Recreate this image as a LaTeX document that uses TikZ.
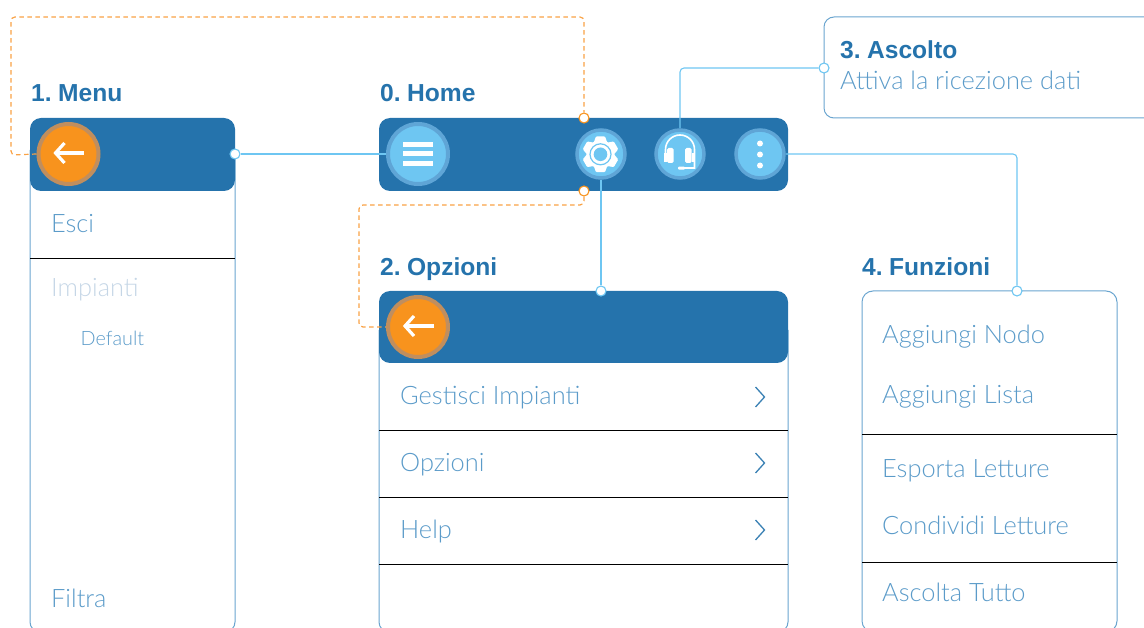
\documentclass[tikz,border=0pt]{standalone}
\usepackage{fontspec}
\setmainfont{Liberation Sans}[WordSpace=0.6]
\newfontfamily\lightf{Lato Light}
\definecolor{barblue}{HTML}{2573AC}
\definecolor{skyb}{HTML}{6EC6F2}
\definecolor{ringb}{HTML}{5FA5D6}
\definecolor{edgeb}{HTML}{6AA5CF}
\definecolor{txtb}{HTML}{5B9BC9}
\definecolor{orangef}{HTML}{F8931D}
\definecolor{orangeline}{HTML}{F9A245}
\definecolor{orangering}{HTML}{C08E5E}
\definecolor{fadeb}{HTML}{C5D6E6}
\tikzset{
  x=1pt,y=-1pt,
  panel/.style={draw=edgeb,line width=1pt,rounded corners=10pt},
  bar/.style={fill=barblue,rounded corners=11pt},
  sep/.style={draw=black,line width=.9pt},
  wire/.style={draw=skyb,line width=1.1pt,rounded corners=4pt},
  orangewire/.style={draw=orangeline,line width=1.2pt,dash pattern=on 4.5pt off 3.5pt,rounded corners=4pt},
  bluedot/.style={circle,draw=skyb,fill=white,line width=1.1pt,inner sep=0pt,minimum size=10pt},
  orangedot/.style={circle,draw=orangef,fill=white,line width=1.1pt,inner sep=0pt,minimum size=10pt},
  bigb/.style={circle,fill=skyb,draw=ringb,line width=4pt,inner sep=0pt,minimum size=60pt},
  smallb/.style={circle,fill=skyb,draw=ringb,line width=3.5pt,inner sep=0pt,minimum size=48pt},
  bigo/.style={circle,fill=orangef,draw=orangering,line width=4pt,inner sep=0pt,minimum size=60pt},
  title/.style={anchor=base west,inner sep=0pt,text=barblue,font=\bfseries\fontsize{24.6}{25}\selectfont},
  item/.style={anchor=base west,inner sep=0pt,text=txtb,font=\lightf\fontsize{25.4}{25.4}\selectfont},
  chev/.style={draw=barblue!90!white,line width=1.3pt},
  arrowmark/.style={draw=white,line width=3.2pt},
  glyph/.style={draw=white,line width=1.6pt}
}
\begin{document}
\begin{tikzpicture}
\useasboundingbox (0,0) rectangle (1144,628);
\begin{scope}
\clip (0,0) rectangle (1144,628);
% panels
\draw[panel] (30,150) -- (30,632) -- (235,632) -- (235,150);
\draw[panel] (379,330) -- (379,632) -- (788,632) -- (788,330);
\draw[panel,rounded corners=11pt] (862,632) -- (862,291) -- (1117,291) -- (1117,632) -- cycle;
\draw[panel] (1160,17) -- (824,17) -- (824,118) -- (1160,118);
% bars
\fill[bar] (30,118) rectangle (235,191);
\fill[bar] (379,118) rectangle (788,191);
\fill[bar] (379,291) rectangle (788,363);
% separators
\draw[sep] (30,258.5) -- (235,258.5);
\draw[sep] (379,430.5) -- (788,430.5);
\draw[sep] (379,497.5) -- (788,497.5);
\draw[sep] (379,564.5) -- (788,564.5);
\draw[sep] (862,434.5) -- (1117,434.5);
\draw[sep] (862,562.5) -- (1117,562.5);
\end{scope}
% buttons
\node[bigo] (back1) at (68.5,154) {};
\node[bigo] (back2) at (418,327) {};
\node[bigb] (burger) at (418,154) {};
\node[smallb] (gear) at (601,154) {};
\node[smallb] (head) at (680,154) {};
\node[smallb] (more) at (760,154) {};
% dots
\node[bluedot] (d1) at (235,154) {};
\node[bluedot] (d2) at (601,291) {};
\node[bluedot] (d3) at (824,68) {};
\node[bluedot] (d4) at (1017,291) {};
\node[orangedot] (o1) at (584,118) {};
\node[orangedot] (o2) at (584,191) {};
% connectors
\draw[wire] (d1) -- (burger);
\draw[wire] (gear) -- (d2);
\draw[wire] (head.north) |- (d3);
\draw[wire] (more) -| (d4);
\draw[orangewire] (back1.west) -- (11,155) -- (11,17) -- (584,17) -- (o1);
\draw[orangewire] (o2) -- (584,205) -- (359,205) -- (359,327) -- (back2.west);
% icons
\foreach \c in {back1,back2}{
  \draw[arrowmark] ([xshift=-12pt,yshift=1pt]\c.center) -- ([xshift=15.5pt,yshift=1pt]\c.center);
  \draw[arrowmark] ([xshift=-4pt,yshift=-9pt]\c.center) -- ([xshift=-13pt,yshift=1pt]\c.center) -- ([xshift=-4pt,yshift=11pt]\c.center);
}
\fill[white] (403,142) rectangle (433,147);
\fill[white] (403,151) rectangle (433,156);
\fill[white] (403,161) rectangle (433,166);
% gear
\begin{scope}[shift={(600.5,154.3)}]
\fill[white,rounded corners=1pt]
  (76:18.5) -- (104:18.5) -- (120:13.5) -- (136:18.5) -- (164:18.5) -- (180:13.5)
  -- (196:18.5) -- (224:18.5) -- (240:13.5) -- (256:18.5) -- (284:18.5) -- (300:13.5)
  -- (316:18.5) -- (344:18.5) -- (0:13.5) -- (16:18.5) -- (44:18.5) -- (60:13.5) -- cycle;
\draw[skyb,line width=1.2pt] (0,0) circle[radius=10.5];
\fill[skyb] (0,0) circle[radius=6.8];
\end{scope}
% headset
\begin{scope}[shift={(680,154)}]
\draw[glyph] (-14.5,0) -- (-14.5,-4.5) arc[start angle=180,end angle=0,radius=14.5,y radius=-14.5] -- (14.5,14) -- (4,14);
\fill[white,rounded corners=1.5pt] (-13,-6) rectangle (-6.5,9);
\fill[white,rounded corners=1.5pt] (5,-6) rectangle (11.5,9);
\fill[white] (-16,-1) rectangle (-13,8);
\fill[white] (12,-1) rectangle (15,8);
\fill[white,rounded corners=1pt] (-2,12.6) rectangle (5,15.6);
\end{scope}
% dots
\fill[white] (760,143.5) circle[radius=3];
\fill[white] (760,154.5) circle[radius=3];
\fill[white] (760,165.5) circle[radius=3];
% titles
\node[title] (t1) at (31,102) {1. Menu};
\node[title] (t0) at (380,102) {0. Home};
\node[title] (t2) at (380,275.5) {2. Opzioni};
\node[title] (t4) at (862,275.5) {4. Funzioni};
\node[title] (t3) at (840,59) {3. Ascolto};
\node[item] (sub3) at (840,90) {Attiva la ricezione dati};
% items
\node[item] (i1) at (51,232.5) {Esci};
\node[item,text=fadeb] (i2) at (51,296.5) {Impianti};
\node[item,font=\lightf\fontsize{19.8}{20}\selectfont] (i3) at (80.5,345.5) {Default};
\node[item] (i4) at (51,607) {Filtra};
\node[item] (j1) at (400,405) {Gestisci Impianti};
\node[item] (j2) at (400,471) {Opzioni};
\node[item] (j3) at (400,538) {Help};
\node[item] (k1) at (882,344) {Aggiungi Nodo};
\node[item] (k2) at (882,403) {Aggiungi Lista};
\node[item] (k3) at (882,477) {Esporta Letture};
\node[item] (k4) at (882,534) {Condividi Letture};
\node[item] (k5) at (882,601) {Ascolta Tutto};
% chevrons
\foreach \y in {397,463,530}{
  \draw[chev] (755.5,\y-10) -- (764.5,\y) -- (755.5,\y+10);
}
\end{tikzpicture}
\end{document}
